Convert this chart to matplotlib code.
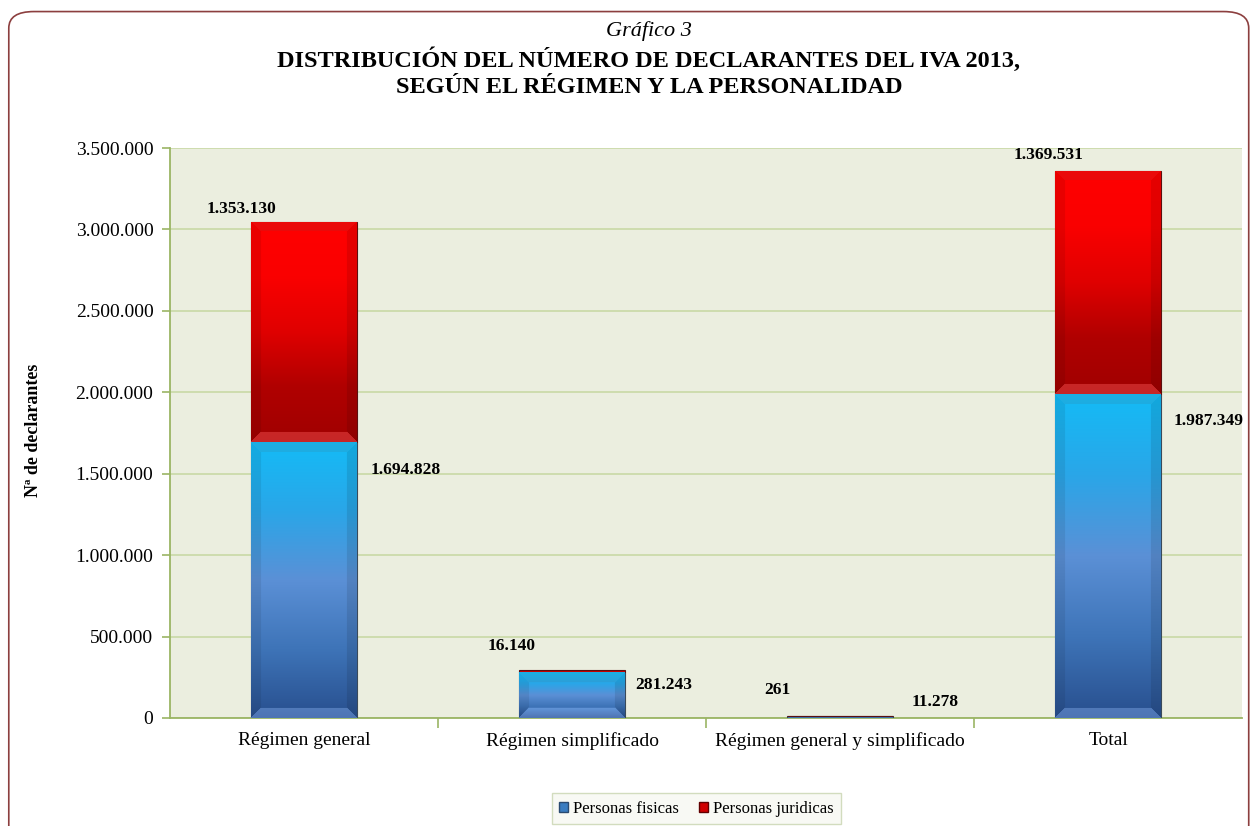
import numpy as np
import matplotlib
matplotlib.use("Agg")
import matplotlib.pyplot as plt
from matplotlib.patches import FancyBboxPatch, Patch
from matplotlib.ticker import FuncFormatter

# data
categories = ["Régimen general", "Régimen simplificado",
              "Régimen general y simplificado", "Total"]
fisicas = [1694828, 281243, 11278, 1987349]
juridicas = [1353130, 16140, 261, 1369531]
series_names = ["Personas fisicas", "Personas juridicas"]

title_top = "Gráfico 3"
title_main = "DISTRIBUCIÓN DEL NÚMERO DE DECLARANTES DEL IVA 2013,\nSEGÚN EL RÉGIMEN Y LA PERSONALIDAD"
ylabel = "Nª de declarantes"

plt.rcParams['font.family'] = ['Liberation Serif', 'DejaVu Serif']

DPI = 100
fig = plt.figure(figsize=(12.55, 8.26), dpi=DPI)
ax = fig.add_axes([0.1355, 0.1308, 0.8545, 0.69])

# outer rounded frame
frame = FancyBboxPatch((0.007, -0.05), 0.988, 1.036,
                       boxstyle="round,pad=0,rounding_size=0.02",
                       transform=fig.transFigure, fill=False,
                       edgecolor="#8c3f3f", linewidth=1.2, zorder=0)
fig.patches.append(frame)

ax.set_facecolor("#ebeedf")
ax.set_xlim(-0.5, len(categories) - 0.5)
ax.set_ylim(0, 3500000)
ax.set_yticks(np.arange(0, 3500001, 500000))
ax.yaxis.set_major_formatter(FuncFormatter(lambda v, p: f"{int(v):,}".replace(",", ".")))
ax.grid(axis="y", color="#c9d9a6", linewidth=1.2, zorder=0)
ax.set_axisbelow(True)
for s in ["top", "right"]:
    ax.spines[s].set_visible(False)
for s in ["left", "bottom"]:
    ax.spines[s].set_color("#9bb565")
    ax.spines[s].set_linewidth(1.3)

x = np.arange(len(categories))
ax.set_xticks(x)
ax.set_xticklabels(categories, fontsize=14)
ax.tick_params(axis="x", length=0, pad=10)
ax.set_xticks(np.arange(0.5, len(categories) - 0.5, 1), minor=True)
ax.tick_params(axis="x", which="minor", length=7, color="#9bb565", width=1.2)
ax.tick_params(axis="y", labelsize=14, length=6, color="#9bb565", width=1.2, pad=6)
fig.text(0.027, 0.479, ylabel, rotation=90, ha="center", va="center",
         fontsize=13, fontweight="bold")

width = 0.395
bars_f = ax.bar(x, fisicas, width, color="#3a7cc0", edgecolor="#3a4a5a",
                linewidth=0.8, zorder=3)
bars_j = ax.bar(x, juridicas, width, bottom=fisicas, color="#d00000",
                edgecolor="#5a1010", linewidth=0.8, zorder=3)


def bevel_image(w, h, stops, bevel=10):
    w = max(int(w), 2)
    h = max(int(h), 2)
    yy, xx = np.mgrid[0:h, 0:w].astype(float)
    t = yy / max(h - 1, 1)
    pos = np.linspace(0, 1, len(stops))
    cols = np.array([matplotlib.colors.to_rgb(c) for c in stops])
    img = np.zeros((h, w, 3))
    for k in range(3):
        img[..., k] = np.interp(t, pos, cols[:, k])
    b = min(bevel, h / 2.0, w / 2.0)
    d_top, d_bot, d_l, d_r = yy, h - 1 - yy, xx, w - 1 - xx
    dmin = np.minimum(np.minimum(d_top, d_bot), np.minimum(d_l, d_r))
    inband = dmin < b
    top = inband & (d_top == dmin)
    bot = inband & (d_bot == dmin) & ~top
    left = inband & (d_l == dmin) & ~top & ~bot
    right = inband & (d_r == dmin) & ~top & ~bot & ~left
    img[top] = img[top] * 0.88 + 0.04
    img[bot] = np.clip(img[bot] + 0.15, 0, 1)
    img[left] = img[left] * 0.92
    img[right] = img[right] * 0.9
    return np.clip(img, 0, 1)


blue_stops = ["#14bbf6", "#2aa6e8", "#5b90d6", "#3e74b8", "#284f8e"]
red_stops = ["#ff0000", "#fa0000", "#e00000", "#b00000", "#a00000"]

fig.canvas.draw()
for bars, stops in [(bars_f, blue_stops), (bars_j, red_stops)]:
    for rect in bars:
        x0, y0 = rect.get_x(), rect.get_y()
        x1, y1 = x0 + rect.get_width(), y0 + rect.get_height()
        p0 = ax.transData.transform((x0, y0))
        p1 = ax.transData.transform((x1, y1))
        wpx, hpx = abs(p1[0] - p0[0]), abs(p1[1] - p0[1])
        if hpx < 3:
            continue
        img = bevel_image(wpx, hpx, stops)
        im = ax.imshow(img, extent=[x0, x1, y0, y1], aspect="auto",
                       interpolation="bilinear", zorder=3.5)
        im.set_clip_path(rect)
ax.set_xlim(-0.5, len(categories) - 0.5)
ax.set_ylim(0, 3500000)

# value labels (offsets in points)
fis_offsets = [(73, -20), (66, -9), (68, 10), (72, -19)]
jur_offsets = [(-45, 9), (-44, 17), (-45, 19), (-43, 11.5)]
fmt = lambda v: f"{v:,}".replace(",", ".")
for i in range(len(categories)):
    ax.annotate(fmt(fisicas[i]), (x[i], fisicas[i]), xytext=fis_offsets[i],
                textcoords="offset points", ha="center", va="center",
                fontsize=12.5, fontweight="bold", zorder=5)
    ax.annotate(fmt(juridicas[i]), (x[i], fisicas[i] + juridicas[i]),
                xytext=jur_offsets[i], textcoords="offset points",
                ha="center", va="center", fontsize=12.5, fontweight="bold",
                zorder=5)

fig.text(0.517, 0.963, title_top, ha="center", va="center", fontsize=16,
         style="italic")
fig.text(0.517, 0.912, title_main, ha="center", va="center", fontsize=17.5,
         fontweight="bold", linespacing=1.3)

handles = [Patch(facecolor="#3a7cc0", edgecolor="#2a4a70"),
           Patch(facecolor="#d00000", edgecolor="#600000")]
leg = fig.legend(handles, series_names, loc="center",
                 bbox_to_anchor=(0.555, 0.021), ncol=2, fontsize=12,
                 handlelength=0.55, handleheight=0.55, handletextpad=0.3,
                 columnspacing=1.2, frameon=True, fancybox=False,
                 borderpad=0.45, borderaxespad=0)
leg.get_frame().set_edgecolor("#c8d4b0")
leg.get_frame().set_facecolor("#f7f8f2")

fig.savefig("out.png", dpi=DPI)
